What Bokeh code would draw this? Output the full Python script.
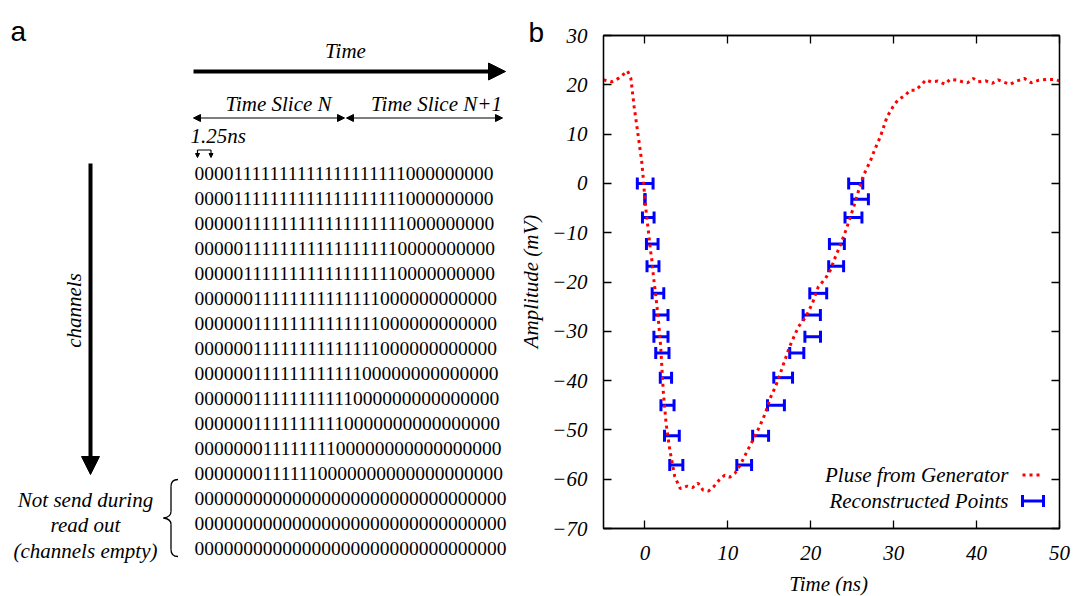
import math
from bokeh.plotting import figure
from bokeh.models import (Range1d, Arrow, NormalHead, Whisker, TeeHead, ColumnDataSource,
                          LinearAxis, Label, FixedTicker, CustomJSTickFormatter)
from bokeh.layouts import row, column
from bokeh.core.properties import value
from bokeh.embed import file_html
from bokeh.resources import INLINE

SERIF = "Liberation Serif"
SANS = "Liberation Sans"

# ---------------- panel a data ----------------
n_bins = 32
lead_zeros = [4, 4, 5, 5, 5, 6, 6, 6, 6, 6, 6, 7, 7, 0, 0, 0]
ones_count = [19, 19, 18, 17, 17, 14, 14, 14, 12, 11, 10, 8, 6, 0, 0, 0]
channel_rows = ["0" * a + "1" * b + "0" * (n_bins - a - b) for a, b in zip(lead_zeros, ones_count)]

# ---------------- panel b data ----------------
pulse_t = [-5.0, -4.0, -3.2, -2.1, -1.7, -1.3, -0.85, -0.4, -0.2, 0.0,
           0.2, 0.43, 0.64, 0.85, 1.03, 1.28, 1.62, 1.9, 2.2, 2.55,
           3.0, 3.6, 4.26, 5.1, 5.75, 6.4, 7.0, 7.66, 8.3, 8.94,
           9.6, 10.2, 10.85, 11.5, 12.3, 13.1, 13.8, 14.5, 15.1, 15.8,
           16.6, 17.45, 18.5, 19.4, 20.2, 20.9, 21.76, 22.36, 22.97, 23.57,
           24.17, 24.78, 25.38, 25.9, 26.38, 27.2, 27.7, 28.4, 29.2, 29.9,
           30.5, 31.4, 32.0, 32.6, 33.3, 33.9, 34.5, 35.3, 36.2, 36.8,
           37.7, 38.3, 38.9, 39.6, 40.2, 41.1, 41.9, 42.6, 43.2, 44.0,
           44.9, 45.75, 46.6, 47.45, 48.5, 49.4, 50.0]
pulse_v = [21.0, 20.6, 21.3, 22.8, 21.3, 15.5, 10.1, 4.6, 1.0, -3.4,
           -6.6, -9.9, -13.2, -15.8, -19.0, -22.3, -27.7, -33.1, -42.0, -48.7,
           -54.1, -59.5, -61.9, -61.4, -61.7, -60.8, -62.2, -62.4, -61.5, -60.2,
           -59.2, -59.6, -58.8, -57.1, -54.4, -51.8, -49.4, -46.7, -43.6, -41.0,
           -37.2, -33.1, -29.1, -27.1, -24.3, -21.0, -19.3, -17.6, -14.9, -12.5,
           -9.8, -6.8, -3.7, -0.7, 1.7, 4.6, 6.8, 9.5, 13.5, 15.5,
           16.9, 17.9, 18.9, 18.9, 19.9, 21.0, 20.6, 20.75, 20.1, 21.1,
           20.95, 20.6, 20.4, 21.3, 20.6, 20.8, 20.3, 21.0, 20.6, 20.1,
           20.8, 21.3, 20.4, 20.9, 21.1, 21.1, 20.8]

levels = [0.0, -3.2, -6.9, -12.3, -16.8, -22.3, -26.7, -31.1, -34.4, -39.4, -45.0, -51.2, -57.1]
rec_left_t = [0.03, 0.0, 0.4, 0.88, 0.97, 1.57, 1.93, 1.93, 2.1, 2.53, 2.72, 3.25, 3.78]
rec_left_err = [0.95, 0.0, 0.7, 0.7, 0.72, 0.7, 0.85, 0.85, 0.8, 0.68, 0.79, 0.89, 0.79]
rec_right_t = [25.42, 25.95, 25.15, 23.15, 23.06, 20.9, 20.12, 20.23, 18.31, 16.67, 15.8, 13.95, 11.97]
rec_right_err = [0.85, 1.0, 1.02, 0.9, 0.9, 1.02, 1.04, 0.94, 0.85, 1.13, 1.02, 0.96, 0.89]

x_ticks = [0, 10, 20, 30, 40, 50]
y_ticks = [-70, -60, -50, -40, -30, -20, -10, 0, 10, 20, 30]

FS = "21px"

def lab(p, x, y, t, size=FS, italic=True, align="center", font=SERIF, **kw):
    p.add_layout(Label(x=x, y=y, text=t, text_font=font, text_font_size=size,
                       text_font_style="italic" if italic else "normal",
                       text_align=align, text_baseline=kw.pop("baseline", "middle"),
                       text_color="black", **kw))

def canvas_fig(w, h, x0, y0):
    f = figure(width=w, height=h, x_range=Range1d(x0, x0 + w), y_range=Range1d(-(y0 + h), -y0),
               x_axis_type=None, y_axis_type=None, min_border=0, toolbar_location=None,
               output_backend="svg", outline_line_color=None, title=None)
    f.frame_align = False
    return f

# ================= panel a (diagram) + panel b side texts =================
W_A, H = 548, 596
pa = canvas_fig(W_A, H, 0, 0)

ROW_X0, ROW_Y0, ROW_DY = 194, 173, 25
row_y = [-(ROW_Y0 + ROW_DY * i) for i in range(len(channel_rows))]
pa.text(x=[ROW_X0] * len(channel_rows), y=row_y, text=channel_rows,
        text_font=value(SERIF), text_font_size="19.5px", text_baseline="middle",
        text_align="left", text_color="black")

lab(pa, 10, -30.5, "a", size="28px", italic=False, align="left", font=SANS, baseline="alphabetic")
lab(pa, 528, -32, "b", size="28px", italic=False, align="left", font=SANS, baseline="alphabetic")
lab(pa, 345, -50, "Time")
lab(pa, 278, -103, "Time Slice N")
lab(pa, 436, -103, "Time Slice N+1")
lab(pa, 190, -135, "1.25ns", align="left")
lab(pa, 73, -310, "channels", angle=math.pi / 2)
lab(pa, 85, -499, "Not send during")
lab(pa, 85, -524, "read out")
lab(pa, 85, -550, "(channels empty)")
lab(pa, 530, -281, "Amplitude (mV)", angle=math.pi / 2)

def head(size):
    return NormalHead(size=size, fill_color="black", line_color="black", line_width=1)

pa.add_layout(Arrow(x_start=193, y_start=-71, x_end=505, y_end=-71, line_width=4,
                    line_color="black", end=head(17)))
pa.add_layout(Arrow(x_start=193, y_start=-117.5, x_end=344, y_end=-117.5, line_width=1.2,
                    line_color="black", start=head(7), end=head(7)))
pa.add_layout(Arrow(x_start=346, y_start=-117.5, x_end=502, y_end=-117.5, line_width=1.2,
                    line_color="black", start=head(7), end=head(7)))
pa.add_layout(Arrow(x_start=197, y_start=-149.5, x_end=210.5, y_end=-149.5, line_width=1.2,
                    line_color="black", end=None))
for bx in (197, 210.5):
    pa.add_layout(Arrow(x_start=bx, y_start=-149.5, x_end=bx, y_end=-157, line_width=1.2,
                        line_color="black", end=head(4)))
pa.add_layout(Arrow(x_start=90, y_start=-163, x_end=90, y_end=-474, line_width=4,
                    line_color="black", end=head(18)))

# curly brace
bz = dict(
    x0=[177.5, 170.5, 163.0, 170.5], y0=[-479, -511, -517.5, -549],
    x1=[170.5, 163.0, 170.5, 177.5], y1=[-486, -517.5, -524, -556],
    cx0=[172.5, 170.5, 167.0, 170.5], cy0=[-479, -515, -518, -553.5],
    cx1=[170.5, 167.0, 170.5, 172.5], cy1=[-481.5, -517, -520, -556],
)
pa.bezier(source=ColumnDataSource(bz), x0="x0", y0="y0", x1="x1", y1="y1",
          cx0="cx0", cy0="cy0", cx1="cx1", cy1="cy1", line_color="black", line_width=1.3)
pa.segment(x0=[170.5, 170.5], y0=[-486, -524], x1=[170.5, 170.5], y1=[-511, -549],
           line_color="black", line_width=1.3)

# ================= panel b (plot) =================
W_B, H_B = 1073 - W_A, 571
pb = figure(width=W_B, height=H_B, x_range=Range1d(-5, 50), y_range=Range1d(-70, 30),
            toolbar_location=None, output_backend="svg", title=None,
            min_border_left=55, min_border_right=14, min_border_top=35, min_border_bottom=43)
pb.frame_align = False
pb.grid.visible = False
pb.outline_line_color = "black"
pb.outline_line_width = 1.3

bottom_axis = pb.below[0]
left_axis = pb.left[0]
bottom_axis.ticker = FixedTicker(ticks=x_ticks)
left_axis.ticker = FixedTicker(ticks=y_ticks)
pb.add_layout(LinearAxis(ticker=FixedTicker(ticks=x_ticks),
                         formatter=CustomJSTickFormatter(code="return ''")), "above")
pb.add_layout(LinearAxis(ticker=FixedTicker(ticks=y_ticks),
                         formatter=CustomJSTickFormatter(code="return ''")), "right")

for ax in pb.axis:
    ax.major_tick_in = 8
    ax.major_tick_out = 0
    ax.minor_tick_in = 0
    ax.minor_tick_out = 0
    ax.axis_line_width = 1.3
    ax.axis_line_color = "black"
    ax.major_tick_line_width = 1.3
    ax.major_tick_line_color = "black"
    ax.major_label_text_font = SERIF
    ax.major_label_text_font_style = "italic"
    ax.major_label_text_font_size = FS
    ax.major_label_text_color = "black"
    ax.major_label_standoff = 0
bottom_axis.major_label_standoff = 17
left_axis.major_label_standoff = 16

RED, BLUE = "#ff0000", "#0000ff"
pb.line(pulse_t, pulse_v, line_color=RED, line_width=3, line_dash="3 4")

rec_t = rec_left_t + rec_right_t
rec_err = rec_left_err + rec_right_err
rec_v = levels + levels
err_src = ColumnDataSource(dict(y=rec_v,
                                lo=[t - e for t, e in zip(rec_t, rec_err)],
                                hi=[t + e for t, e in zip(rec_t, rec_err)]))

def tee():
    return TeeHead(size=12, line_color=BLUE, line_width=3)

pb.add_layout(Whisker(source=err_src, base="y", lower="lo", upper="hi", dimension="width",
                      line_color=BLUE, line_width=3, lower_head=tee(), upper_head=tee()))

# legend (text left, sample right, as in the original)
lab(pb, 405, 53.5, "Pluse from Generator", align="right", x_units="screen", y_units="screen")
lab(pb, 405, 27.5, "Reconstructed Points", align="right", x_units="screen", y_units="screen")
pb.add_layout(Arrow(x_start=419, y_start=53.5, x_end=440, y_end=53.5, start_units="screen",
                    end_units="screen", end=None, line_color=RED, line_width=3, line_dash="3 4"))
leg_src = ColumnDataSource(dict(b=[27.5], l=[419], u=[440]))
pb.add_layout(Whisker(source=leg_src, base="b", lower="l", upper="u", dimension="width",
                      base_units="screen", lower_units="screen", upper_units="screen",
                      line_color=BLUE, line_width=3, lower_head=tee(), upper_head=tee()))

# x-axis title strip under panel b
pxl = canvas_fig(W_B, H - H_B, W_A, H_B)
lab(pxl, 828, -583.5, "Time (ns)")

layout = row(pa, column(pb, pxl))
open("out.html", "w").write(file_html(layout, INLINE))
